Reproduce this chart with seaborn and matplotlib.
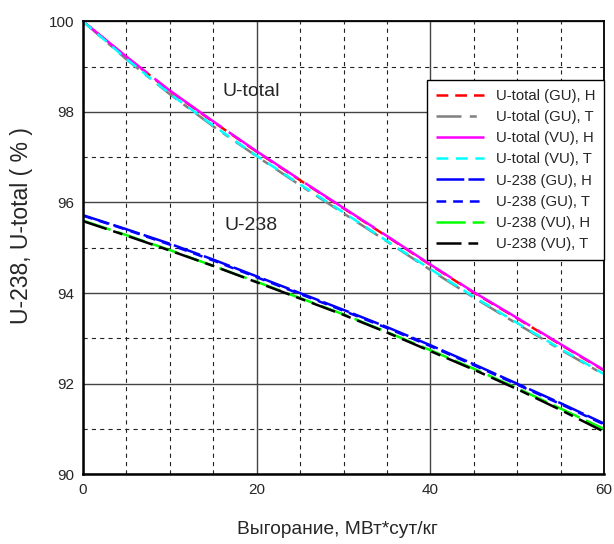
import numpy as np
import pandas as pd
import seaborn as sns
import matplotlib.pyplot as plt
from matplotlib.ticker import MultipleLocator

# burnup grid, MWd/kg
burnup = [0, 5, 10, 15, 20, 25, 30, 35, 40, 45, 50, 55, 60]

# U-total, %
utot_gu_h = [100, 99.21, 98.46, 97.78, 97.12, 96.49, 95.87, 95.25, 94.62, 94.01, 93.44, 92.86, 92.29]
utot_gu_t = [100, 99.16, 98.39, 97.68, 97.02, 96.38, 95.76, 95.14, 94.51, 93.90, 93.32, 92.75, 92.20]
utot_vu_h = [100, 99.22, 98.47, 97.79, 97.13, 96.50, 95.88, 95.26, 94.63, 94.02, 93.45, 92.87, 92.30]
utot_vu_t = [100, 99.17, 98.40, 97.70, 97.03, 96.40, 95.78, 95.15, 94.53, 93.92, 93.34, 92.77, 92.21]

# U-238, %
u238_gu_h = [95.72, 95.41, 95.09, 94.74, 94.37, 94.00, 93.63, 93.25, 92.85, 92.43, 92.00, 91.57, 91.12]
u238_gu_t = [95.71, 95.40, 95.07, 94.72, 94.35, 93.98, 93.61, 93.23, 92.83, 92.41, 91.98, 91.55, 91.10]
u238_vu_h = [95.60, 95.28, 94.95, 94.60, 94.25, 93.89, 93.53, 93.14, 92.74, 92.33, 91.90, 91.45, 91.00]
u238_vu_t = [95.59, 95.27, 94.94, 94.60, 94.24, 93.88, 93.52, 93.13, 92.72, 92.31, 91.88, 91.42, 90.94]

labels = ["U-total (GU), H", "U-total (GU), T", "U-total (VU), H", "U-total (VU), T",
          "U-238 (GU), H", "U-238 (GU), T", "U-238 (VU), H", "U-238 (VU), T"]
series = [utot_gu_h, utot_gu_t, utot_vu_h, utot_vu_t,
          u238_gu_h, u238_gu_t, u238_vu_h, u238_vu_t]
colors = ["#ff0000", "#808080", "#ff00ff", "#00ffff",
          "#0000ff", "#0000ff", "#00ff00", "#000000"]
styles = [(0, (8.5, 5)), (0, (18, 6, 5, 6)), (0, (60, 6)), (0, (8.5, 5.5)),
          (0, (20, 3)), (0, (7, 5)), (0, (21, 5)), (0, (18, 5, 7, 5))]

sns.set_style("white")
plt.rcParams["font.family"] = ["Liberation Sans", "DejaVu Sans"]
plt.rcParams["lines.scale_dashes"] = False

fig = plt.figure(figsize=(6.14, 5.44), dpi=100)
ax = fig.add_axes([0.135, 0.128, 0.849, 0.833])

for lab, vals, col, ls in zip(labels, series, colors, styles):
    df = pd.DataFrame({"x": burnup, "y": vals})
    sns.lineplot(data=df, x="x", y="y", color=col, linestyle=ls, linewidth=1.8,
                 label=lab, ax=ax)

ax.set_xlim(0, 60)
ax.set_ylim(90, 100)
ax.xaxis.set_major_locator(MultipleLocator(20))
ax.xaxis.set_minor_locator(MultipleLocator(5))
ax.yaxis.set_major_locator(MultipleLocator(2))
ax.yaxis.set_minor_locator(MultipleLocator(1))
ax.grid(which="major", color="#444444", linestyle="-", linewidth=1.0)
ax.grid(which="minor", color="#222222", linestyle=(0, (3, 3)), linewidth=0.8)
ax.set_axisbelow(True)
ax.tick_params(which="both", length=0, labelsize=11)
ax.tick_params(axis="y", pad=6)
ax.tick_params(axis="x", pad=6)

for s in ax.spines.values():
    s.set_color("black")
    s.set_linewidth(1.3)
ax.spines["left"].set_linewidth(1.8)
ax.spines["bottom"].set_linewidth(1.8)

ax.text(16.1, 98.34, "U-total", fontsize=14, va="baseline", ha="left")
ax.text(16.35, 95.39, "U-238", fontsize=14, va="baseline", ha="left")

ax.set_xlabel("Выгорание, МВт*сут/кг", fontsize=13.8)
ax.set_ylabel("U-238, U-total ( % )", fontsize=16.5)
ax.xaxis.set_label_coords(0.488, -0.104)
ax.yaxis.set_label_coords(-0.095, 0.55)

leg = ax.legend(loc="upper right", bbox_to_anchor=(1.0, 0.87), fontsize=10.7,
                frameon=True, fancybox=False, framealpha=1, edgecolor="black",
                handlelength=3.2, labelspacing=0.48, borderaxespad=0,
                borderpad=0.6, handletextpad=0.8)
leg.get_frame().set_linewidth(1.0)

fig.savefig("out.png", dpi=100)
